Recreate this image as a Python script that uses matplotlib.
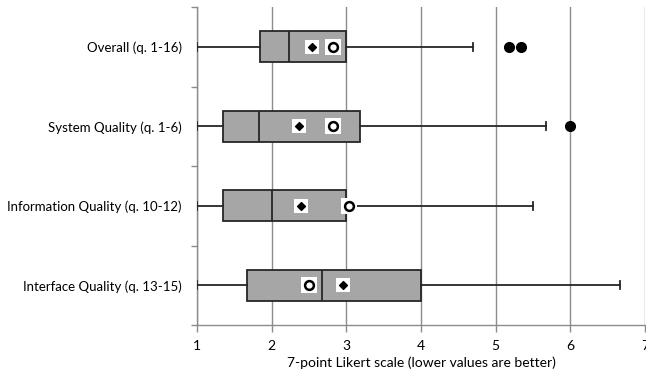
import matplotlib
matplotlib.use("Agg")
import matplotlib.pyplot as plt

# ------------------------------------------------------------
# DATA
# ------------------------------------------------------------
categories = [
    "Overall (q. 1-16)",
    "System Quality (q. 1-6)",
    "Information Quality (q. 10-12)",
    "Interface Quality (q. 13-15)",
]
whisker_lo = [1.0, 1.0, 1.0, 1.0]
q1 = [1.84, 1.35, 1.35, 1.67]
median = [2.23, 1.83, 2.0, 2.67]
q3 = [3.0, 3.18, 3.0, 4.0]
whisker_hi = [4.69, 5.67, 5.5, 6.67]
outliers = [[5.18, 5.34], [6.0], [], []]
mean_diamond = [2.54, 2.37, 2.39, 2.96]
mean_circle = [2.82, 2.82, 3.03, 2.5]

GRID = "#8c8c8c"
BOX = "#a6a6a6"
EDGE = "#262626"

plt.rcParams["font.family"] = ["Lato", "DejaVu Sans"]

fig = plt.figure(figsize=(6.46, 3.75), dpi=100)
ax = fig.add_axes([0.305, 0.1333, 0.6935, 0.848])

stats = []
for i, name in enumerate(categories):
    stats.append({
        "label": name,
        "whislo": whisker_lo[i],
        "q1": q1[i],
        "med": median[i],
        "q3": q3[i],
        "whishi": whisker_hi[i],
        "fliers": outliers[i],
    })

pos = list(range(len(categories)))
ax.bxp(
    stats, positions=pos, vert=False, widths=0.39, patch_artist=True,
    showfliers=True, capwidths=0.1,
    boxprops=dict(facecolor=BOX, edgecolor=EDGE, linewidth=1.3),
    medianprops=dict(color=EDGE, linewidth=1.3),
    whiskerprops=dict(color=EDGE, linewidth=1.3),
    capprops=dict(color=EDGE, linewidth=1.3),
    flierprops=dict(marker="o", markerfacecolor="black", markeredgecolor="black",
                    markersize=7),
    zorder=3,
)

# white square backgrounds behind the mean markers
ax.scatter(mean_diamond, pos, marker="s", s=100, color="white", zorder=4, linewidths=0)
ax.scatter(mean_circle, pos, marker="s", s=120, color="white", zorder=4, linewidths=0)
ax.scatter(mean_diamond, pos, marker="D", s=16, color="black", zorder=5)
ax.scatter(mean_circle, pos, marker="o", s=40, facecolor="white",
           edgecolor="black", linewidths=1.8, zorder=5)

ax.set_xlim(1, 7)
ax.set_ylim(3.5, -0.5)
ax.set_xticks(range(1, 8))
ax.set_yticks(pos)
ax.set_yticklabels(categories)
ax.set_yticks([-0.5, 0.5, 1.5, 2.5, 3.5], minor=True)
ax.tick_params(axis="y", which="major", length=0, pad=11, labelsize=9.5)
ax.tick_params(axis="y", which="minor", length=4, color=GRID, width=1)
ax.tick_params(axis="x", length=5, color=GRID, width=1, labelsize=10, pad=6)

ax.grid(axis="x", color=GRID, linewidth=1, zorder=0)
ax.set_axisbelow(True)
for s in ["top", "right"]:
    ax.spines[s].set_visible(False)
for s in ["left", "bottom"]:
    ax.spines[s].set_color(GRID)
    ax.spines[s].set_linewidth(1)

ax.set_xlabel("7-point Likert scale (lower values are better)", fontsize=10, labelpad=3)

fig.savefig("out.png", dpi=100)
